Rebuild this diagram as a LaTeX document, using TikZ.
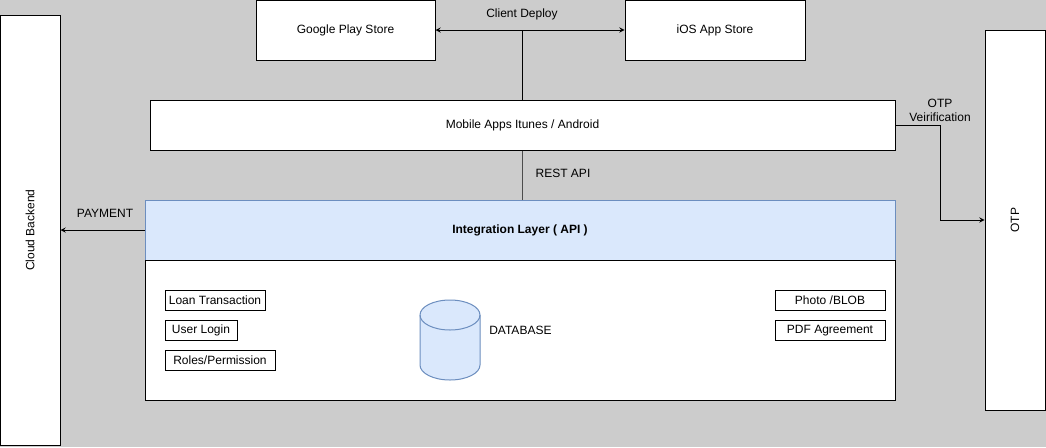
\documentclass[tikz,border=0pt]{standalone}
\usepackage{fontspec}
\setmainfont{Liberation Sans}
\usepackage{tikz}
\usetikzlibrary{arrows}
\usetikzlibrary{positioning}
\definecolor{sfondo}{HTML}{CCCCCC}
\definecolor{azzurro}{HTML}{DAE8FC}
\definecolor{bordoblu}{HTML}{6C8EBF}
\tikzset{
    scatola/.style={draw=black, fill=white, rectangle, line width=0.75pt, inner sep=0pt},
    scatolina/.style={draw=black, fill=white, rectangle, line width=0.75pt, inner sep=0pt, minimum height=15pt},
    strato/.style={draw=bordoblu, fill=azzurro, rectangle, line width=0.75pt, inner sep=0pt},
    freccia/.style={->, >=stealth, draw=black, line width=0.75pt},
    linea/.style={draw=black, line width=0.75pt},
    etichetta/.style={inner sep=0pt},
    bidone/.style={draw=bordoblu, fill=azzurro, line width=0.75pt},
}

\begin{document}
\begin{tikzpicture}[x=0.75pt,y=-0.75pt,font=\fontsize{9}{10.5}\selectfont]
\useasboundingbox (0,0) rectangle (1046,447);
\fill [sfondo] (0,0) rectangle (1046,447);

% colonne laterali
\node [scatola, minimum width=45pt, minimum height=322.5pt] at (30,230) (cloud) {};
\node [rotate=90] at (cloud.center) {Cloud Backend};
\node [scatola, minimum width=45pt, minimum height=285pt] at (1015,220) (otp) {};
\node [rotate=90] at (otp.center) {OTP};

% negozi
\node [scatola, minimum width=134.25pt, minimum height=45pt] at (345.5,30) (google) {Google Play Store};
\node [scatola, minimum width=135pt, minimum height=45pt] at (715,30) (ios) {iOS App Store};
\node [etichetta] at (522,14) (deploy) {Client Deploy};

% strati
\node [scatola, minimum width=558.75pt, minimum height=37.5pt] at (522.5,125) (mobile) {Mobile Apps Itunes / Android};
\node [strato, minimum width=562.5pt, minimum height=45pt] at (520,230) (integr) {\textbf{Integration Layer ( API )}};
\node [scatola, minimum width=562.5pt, minimum height=105pt] at (520,330) (dati) {};

% moduli
\node [scatolina, minimum width=75pt] at (215,300.5) (prestito) {Loan Transaction};
\node [scatolina, minimum width=54pt] at (201,330.5) (login) {User Login};
\node [scatolina, minimum width=82.5pt] at (220,360.5) (ruoli) {Roles/Permission};
\node [scatolina, minimum width=82.5pt] at (830,300.5) (foto) {Photo /BLOB};
\node [scatolina, minimum width=82.5pt] at (830,330.5) (pdf) {PDF Agreement};

% database
\coordinate (db) at (450,340);
\filldraw [bidone] (420,315) -- (420,365)
    arc [start angle=180, end angle=360, x radius=22.5pt, y radius=11.25pt]
    -- (480,315)
    arc [start angle=0, end angle=180, x radius=22.5pt, y radius=11.25pt] -- cycle;
\draw [bidone, fill=none] (420,315)
    arc [start angle=180, end angle=360, x radius=22.5pt, y radius=11.25pt];
\node [etichetta, anchor=west] at (489,330) (dbtesto) {DATABASE};

\coordinate (giunto) at (522.5,30);
\draw [linea] (mobile.north) -- (giunto);
\draw [freccia] (giunto) -- (google.east);
\draw [freccia] (giunto) -- (ios.west);

\draw [linea, draw=black!70] (mobile.south) -- (mobile.south |- integr.north);
\node [etichetta] at (563,173) (rest) {REST API};

\draw [freccia] (integr.west) -- (cloud.east);
\node [etichetta] at (105,213) (pagamento) {PAYMENT};

\draw [freccia] (mobile.east) -- ++(45,0) |- (otp.west);
\node [etichetta, align=center] at (940,110) (verifica) {OTP\\Veirification};

\end{tikzpicture}
\end{document}
